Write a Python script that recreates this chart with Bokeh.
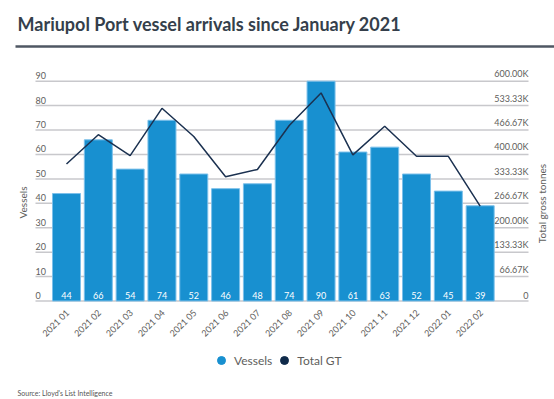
from bokeh.plotting import figure
from bokeh.models import Range1d, ColumnDataSource, Legend, LegendItem
from bokeh.core.properties import value
from bokeh.embed import file_html
from bokeh.resources import INLINE
import math

# ---- data ----
months = ["2021 01", "2021 02", "2021 03", "2021 04", "2021 05", "2021 06", "2021 07",
          "2021 08", "2021 09", "2021 10", "2021 11", "2021 12", "2022 01", "2022 02"]
vessels = [44, 66, 54, 74, 52, 46, 48, 74, 90, 61, 63, 52, 45, 39]
total_gt = [374000, 454000, 397000, 526000, 449000, 339000, 359000,
            479000, 568000, 399000, 477000, 395000, 395000, 259000]
left_ticks = [0, 10, 20, 30, 40, 50, 60, 70, 80, 90]
left_tick_labels = ["0", "10", "20", "30", "40", "50", "60", "70", "80", "90"]
right_ticks = [0, 66666.67, 133333.33, 200000, 266666.67, 333333.33, 400000, 466666.67, 533333.33, 600000]
right_tick_labels = ["0", "66.67K", "133.33K", "200.00K", "266.67K", "333.33K",
                     "400.00K", "466.67K", "533.33K", "600.00K"]

W, H = 554, 399
FONT = "Lato"
GRAY = "#605e5c"
BAR = "#1890d0"
NAVY = "#1b3150"

# pixel mapping (page pixel coords, origin top-left)
SX = 31.82            # px per category
X0 = -66.0 / SX       # data x at left frame edge
SY = 2.4422           # px per vessel
Y0 = -(H - 300.5) / SY  # data y at bottom frame edge

def dx(px):
    return X0 + px / SX

def dy(py):
    return Y0 + (H - py) / SY

GT_SCALE = 600000 / 90.0

p = figure(width=W, height=H, output_backend="svg", toolbar_location=None,
           x_range=Range1d(X0, X0 + W / SX), y_range=Range1d(Y0, Y0 + H / SY),
           min_border=0, outline_line_color=None, tools="")
p.extra_y_ranges = {"gt": Range1d(Y0 * GT_SCALE, (Y0 + H / SY) * GT_SCALE)}
p.axis.visible = False
p.grid.visible = False
p.background_fill_color = "white"
p.border_fill_color = "white"

idx = list(range(len(months)))

# title and rule
p.text(x=[dx(17)], y=[dy(23.5)], text=["Mariupol Port vessel arrivals since January 2021"],
       text_font=value(FONT), text_font_size="18px", text_font_style="bold",
       text_color="#353f4b", text_baseline="alphabetic", text_align="left")
p.segment(x0=[dx(15)], y0=[dy(46)], x1=[dx(554)], y1=[dy(46)], line_color="#4f5763", line_width=2.5)

# gridlines
gx0 = dx(35)
gx1 = dx(528)
p.segment(x0=[gx0] * len(left_ticks), y0=left_ticks, x1=[gx1] * len(left_ticks), y1=left_ticks,
          line_color="#c8c8cc", line_width=1.5)

# left tick labels
p.text(x=[gx0] * len(left_ticks), y=left_ticks, text=left_tick_labels, text_font=value(FONT),
       text_font_size="9px", text_color=GRAY, text_align="left", text_baseline="bottom", y_offset=-2)
# right tick labels
p.text(x=[gx1] * len(right_ticks), y=right_ticks, text=right_tick_labels,
       text_font=value(FONT), text_font_size="9px", text_color=GRAY, text_align="right",
       text_baseline="bottom", y_offset=-2, y_range_name="gt")

# axis titles
p.text(x=[dx(22)], y=[dy(202)], text=["Vessels"], angle=math.pi / 2, text_font=value(FONT),
       text_font_size="10px", text_color=GRAY, text_align="center", text_baseline="middle")
p.text(x=[dx(541)], y=[dy(203)], text=["Total gross tonnes"], angle=math.pi / 2, text_font=value(FONT),
       text_font_size="10px", text_color=GRAY, text_align="center", text_baseline="middle")

src = ColumnDataSource(dict(x=idx, v=vessels, gt=total_gt, lbl=[str(v) for v in vessels],
                            m=months, zero=[0] * len(idx)))

bars = p.vbar(x="x", top="v", width=0.88, source=src, fill_color=BAR,
              line_color="#7cc0ea", line_width=1)
p.text(x="x", y="zero", text="lbl", source=src, text_font=value(FONT), text_font_size="9px",
       text_color="white", text_align="center", text_baseline="bottom", y_offset=-2)
line = p.line(x="x", y="gt", source=src, y_range_name="gt", line_color=NAVY, line_width=1.5)

# x category labels
p.text(x="x", y="zero", text="m", source=src, angle=math.pi / 4, text_font=value(FONT),
       text_font_size="9px", text_color=GRAY, text_align="right", text_baseline="middle",
       x_offset=1, y_offset=10)

# source
p.text(x=[dx(17)], y=[dy(392)], text=["Source: Lloyd's List Intelligence"], text_font=value(FONT),
       text_font_size="7px", text_color="#555555", text_align="left", text_baseline="middle")

# legend with circle markers (placeholder points outside the view)
nan = float("nan")
r1 = p.scatter(x=[nan], y=[nan], marker="circle", size=10, fill_color=BAR, line_color=BAR)
r2 = p.scatter(x=[nan], y=[nan], marker="circle", size=10, fill_color="#0f2a4a", line_color="#0f2a4a")
legend = Legend(items=[LegendItem(label="Vessels", renderers=[r1], index=0),
                       LegendItem(label="Total GT", renderers=[r2], index=0)],
                orientation="horizontal", location=(211, 29), glyph_width=20, glyph_height=20,
                label_standoff=3, spacing=2, padding=0, margin=0, border_line_color=None,
                background_fill_alpha=0, label_text_font=FONT, label_text_font_size="12px",
                label_text_color=GRAY)
p.add_layout(legend)

open("out.html", "w").write(file_html(p, INLINE))
